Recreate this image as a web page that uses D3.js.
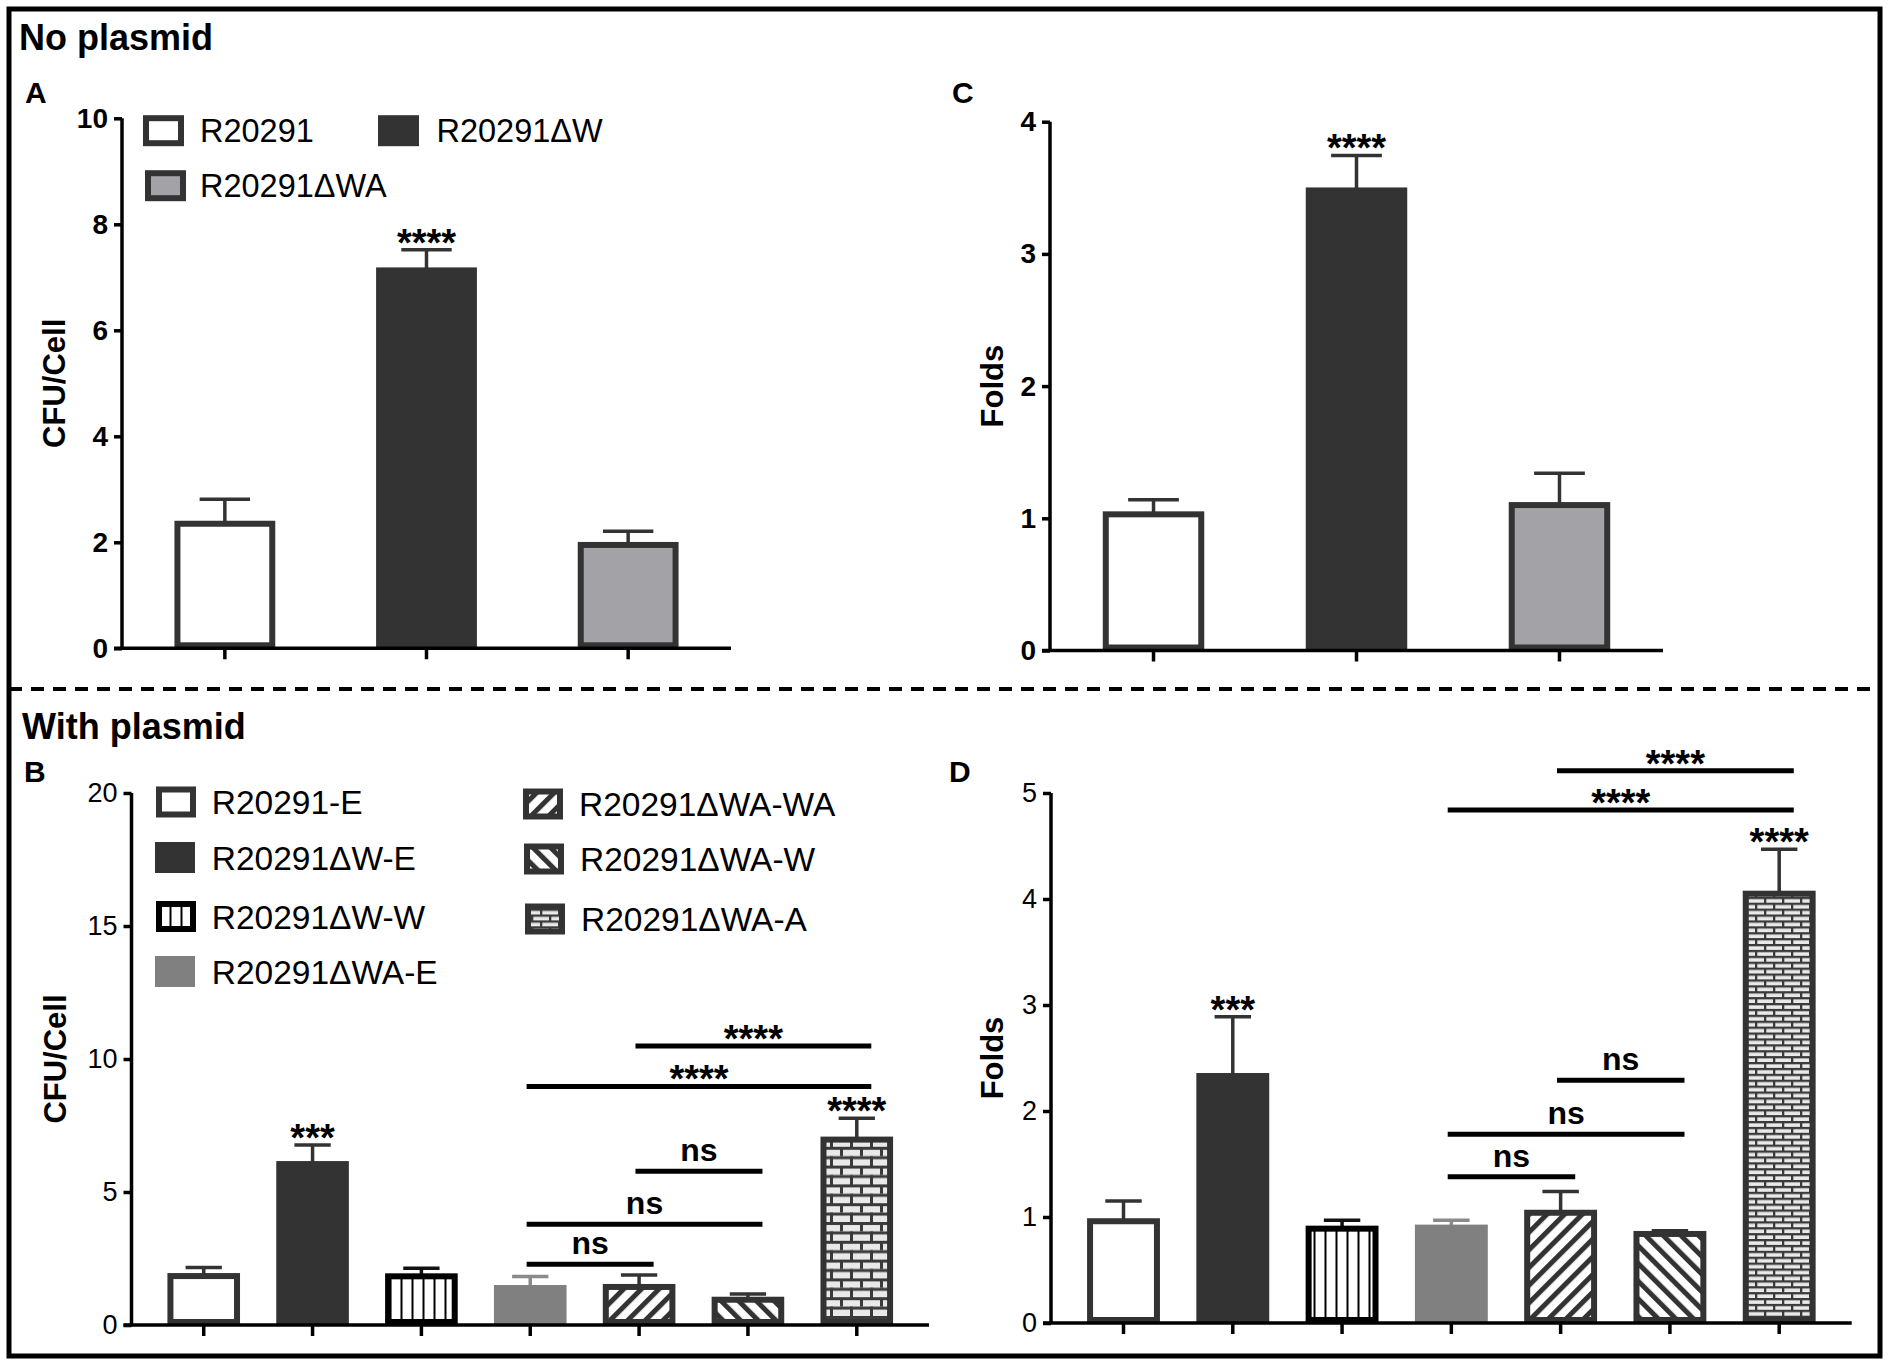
<!DOCTYPE html>
<html><head><meta charset="utf-8">
<script src="https://cdn.jsdelivr.net/npm/d3@7"></script>
<style>
body{margin:0;background:#fff;}
svg{display:block;font-family:"Liberation Sans",Arial,Helvetica,sans-serif;}
</style></head><body>
<svg id="fig" width="1892" height="1367"></svg>
<script>
// ---------------- DATA ----------------
const catsNoPlasmid = ["R20291", "R20291ΔW", "R20291ΔWA"];
const cfuNoPlasmid = [2.35, 7.13, 1.95];
const cfuNoPlasmidErr = [0.46, 0.39, 0.26];
const foldsNoPlasmid = [1.03, 3.48, 1.10];
const foldsNoPlasmidErr = [0.11, 0.265, 0.24];
const starsNoPlasmid = ["", "****", ""];

const catsPlasmid = ["R20291-E", "R20291ΔW-E", "R20291ΔW-W", "R20291ΔWA-E", "R20291ΔWA-WA", "R20291ΔWA-W", "R20291ΔWA-A"];
const cfuPlasmid = [1.84, 6.05, 1.83, 1.39, 1.43, 0.95, 6.97];
const cfuPlasmidErr = [0.32, 0.72, 0.30, 0.43, 0.45, 0.22, 0.80];
const foldsPlasmid = [0.96, 2.33, 0.89, 0.90, 1.04, 0.84, 4.05];
const foldsPlasmidErr = [0.19, 0.56, 0.08, 0.07, 0.20, 0.03, 0.42];
const starsPlasmid = ["", "***", "", "", "", "", "****"];

const cfuComparisons = [
  {from: "R20291ΔWA-E", to: "R20291ΔWA-WA", level: 2.28, label: "ns"},
  {from: "R20291ΔWA-E", to: "R20291ΔWA-W", level: 3.79, label: "ns"},
  {from: "R20291ΔWA-WA", to: "R20291ΔWA-W", level: 5.78, label: "ns"},
  {from: "R20291ΔWA-E", to: "R20291ΔWA-A", level: 8.97, label: "****"},
  {from: "R20291ΔWA-WA", to: "R20291ΔWA-A", level: 10.49, label: "****"}
];
const foldsComparisons = [
  {from: "R20291ΔWA-E", to: "R20291ΔWA-WA", level: 1.38, label: "ns"},
  {from: "R20291ΔWA-E", to: "R20291ΔWA-W", level: 1.78, label: "ns"},
  {from: "R20291ΔWA-WA", to: "R20291ΔWA-W", level: 2.29, label: "ns"},
  {from: "R20291ΔWA-E", to: "R20291ΔWA-A", level: 4.84, label: "****"},
  {from: "R20291ΔWA-WA", to: "R20291ΔWA-A", level: 5.21, label: "****"}
];

const ticksA = [0, 2, 4, 6, 8, 10];
const ticksC = [0, 1, 2, 3, 4];
const ticksB = [0, 5, 10, 15, 20];
const ticksD = [0, 1, 2, 3, 4, 5];

// ---------------- STYLES ----------------
const styleMap = {
  "R20291": {fill: "#ffffff", stroke: "#333", err: "#333"},
  "R20291ΔW": {fill: "#333333", stroke: "#333", err: "#333"},
  "R20291ΔWA": {fill: "#a3a3a7", stroke: "#333", err: "#333"},
  "R20291-E": {fill: "#ffffff", stroke: "#333", err: "#333"},
  "R20291ΔW-E": {fill: "#333333", stroke: "#333", err: "#333"},
  "R20291ΔW-W": {fill: "url(#vlines)", stroke: "#000", err: "#111"},
  "R20291ΔWA-E": {fill: "#808080", stroke: "#808080", err: "#8a8a8a"},
  "R20291ΔWA-WA": {fill: "url(#diagUp)", stroke: "#333", err: "#333"},
  "R20291ΔWA-W": {fill: "url(#diagDown)", stroke: "#333", err: "#333"},
  "R20291ΔWA-A": {fill: "url(#brickB)", stroke: "#333", err: "#333"}
};

const svg = d3.select("#fig");
const defs = svg.append("defs");

// vertical lines
const pv = defs.append("pattern").attr("id", "vlines").attr("patternUnits", "userSpaceOnUse")
  .attr("width", 11).attr("height", 10);
pv.append("rect").attr("width", 11).attr("height", 10).attr("fill", "#fff");
pv.append("rect").attr("x", 4.5).attr("width", 2).attr("height", 10).attr("fill", "#000");

function diag(id, angle) {
  const p = defs.append("pattern").attr("id", id).attr("patternUnits", "userSpaceOnUse")
    .attr("width", 12.5).attr("height", 12.5).attr("patternTransform", `rotate(${angle})`);
  p.append("rect").attr("width", 12.5).attr("height", 12.5).attr("fill", "#fff");
  p.append("rect").attr("width", 5).attr("height", 12.5).attr("fill", "#333");
}
diag("diagUp", 45);
diag("diagDown", -45);

function brick(id, w, h, m) {
  const p = defs.append("pattern").attr("id", id).attr("patternUnits", "userSpaceOnUse")
    .attr("width", w).attr("height", 2 * h);
  p.append("rect").attr("width", w).attr("height", 2 * h).attr("fill", "#e9e9e9");
  p.append("rect").attr("y", 0).attr("width", w).attr("height", m).attr("fill", "#3a3a3a");
  p.append("rect").attr("y", h).attr("width", w).attr("height", m).attr("fill", "#3a3a3a");
  p.append("rect").attr("x", 0).attr("y", 0).attr("width", m).attr("height", h).attr("fill", "#3a3a3a");
  p.append("rect").attr("x", w / 2).attr("y", h).attr("width", m).attr("height", h).attr("fill", "#3a3a3a");
}
brick("brickB", 20, 9.4, 3);
brick("brickD", 18, 5.9, 2.3);

// ---------------- FRAME ----------------
svg.append("rect").attr("x", 9).attr("y", 9).attr("width", 1871).attr("height", 1347)
  .attr("fill", "none").attr("stroke", "#000").attr("stroke-width", 5);
svg.append("line").attr("x1", 9).attr("x2", 1880).attr("y1", 689).attr("y2", 689)
  .attr("stroke", "#000").attr("stroke-width", 4).attr("stroke-dasharray", "13 9");

svg.append("text").attr("x", 19).attr("y", 50).attr("font-size", 36).attr("font-weight", "bold").text("No plasmid");
svg.append("text").attr("x", 22).attr("y", 739).attr("font-size", 36).attr("font-weight", "bold").text("With plasmid");

const letters = [["A", 25, 103], ["C", 952, 103], ["B", 24, 782], ["D", 949, 782]];
letters.forEach(([t, x, y]) => svg.append("text").attr("x", x).attr("y", y)
  .attr("font-size", 30).attr("font-weight", "bold").text(t));

// ---------------- PANEL ----------------
function drawPanel(o) {
  const g = svg.append("g");
  const x = d3.scaleBand().domain(o.cats).range(o.xRange).paddingInner(o.padIn).paddingOuter(o.padOut);
  const y = d3.scaleLinear().domain([0, d3.max(o.ticks)]).range(o.yRange);
  const bw = x.bandwidth();
  const sw = 6;
  const cx = c => x(c) + bw / 2;
  const style = c => Object.assign({}, styleMap[c], (o.override || {})[c] || {});
  const rows = o.cats.map((c, i) => ({c, v: o.values[i], e: o.errs[i], s: o.stars[i]}));

  // error bars
  rows.forEach(r => {
    const st = style(r.c);
    g.append("line").attr("x1", cx(r.c)).attr("x2", cx(r.c)).attr("y1", y(r.v)).attr("y2", y(r.v + r.e))
      .attr("stroke", st.err).attr("stroke-width", 3.5);
    g.append("line").attr("x1", cx(r.c) - bw / 4).attr("x2", cx(r.c) + bw / 4)
      .attr("y1", y(r.v + r.e)).attr("y2", y(r.v + r.e))
      .attr("stroke", st.err).attr("stroke-width", 3.5);
  });
  // bars
  g.selectAll("rect.bar").data(rows).join("rect").attr("class", "bar")
    .attr("x", d => x(d.c) + sw / 2).attr("width", bw - sw)
    .attr("y", d => y(d.v)).attr("height", d => y(0) - y(d.v) - sw / 2)
    .attr("fill", d => style(d.c).fill).attr("stroke", d => style(d.c).stroke).attr("stroke-width", sw);
  // stars above bars
  g.selectAll("text.star").data(rows.filter(d => d.s)).join("text").attr("class", "star")
    .attr("x", d => cx(d.c)).attr("y", d => y(d.v + d.e) + 6)
    .attr("text-anchor", "middle").attr("font-size", 38).attr("font-weight", "bold").text(d => d.s);

  // comparisons
  (o.comparisons || []).forEach(cmp => {
    const x1 = cx(cmp.from) - 0.05 * bw, x2 = cx(cmp.to) + 0.2 * bw, yy = y(cmp.level);
    g.append("line").attr("x1", x1).attr("x2", x2).attr("y1", yy).attr("y2", yy)
      .attr("stroke", "#000").attr("stroke-width", 5);
    const isNs = cmp.label === "ns";
    g.append("text").attr("x", (x1 + x2) / 2).attr("y", isNs ? yy - 10 : yy + 6)
      .attr("text-anchor", "middle").attr("font-weight", "bold")
      .attr("font-size", isNs ? 32 : 38).text(cmp.label);
  });

  // axes
  const x0 = o.xRange[0];
  const yAxis = g.append("g").attr("transform", `translate(${x0},0)`)
    .call(d3.axisLeft(y).tickValues(o.ticks).tickSize(8).tickPadding(6).tickFormat(d3.format("d")));
  yAxis.select(".domain").attr("d", `M0,${y(0)}V${y(d3.max(o.ticks))}`).attr("stroke", "#000").attr("stroke-width", 3.5);
  yAxis.selectAll(".tick line").attr("stroke", "#000").attr("stroke-width", 3.5);
  yAxis.selectAll(".tick text").attr("fill", "#000").attr("font-size", o.tickSize)
    .attr("font-weight", o.tickWeight).attr("font-family", "'Liberation Sans',Arial,sans-serif");

  const xAxis = g.append("g").attr("transform", `translate(0,${y(0)})`)
    .call(d3.axisBottom(x).tickSize(11).tickFormat(""));
  xAxis.select(".domain").attr("d", `M${x0 - 8},0H${o.xRange[1]}`).attr("stroke", "#000").attr("stroke-width", 3.5);
  xAxis.selectAll(".tick line").attr("stroke", "#000").attr("stroke-width", 3.5);

  // y title
  g.append("text").attr("transform", `translate(${o.titleX},${(o.yRange[0] + o.yRange[1]) / 2}) rotate(-90)`)
    .attr("text-anchor", "middle").attr("font-size", 31).attr("font-weight", "bold").text(o.yTitle);

  // legend
  (o.legend || []).forEach(L => {
    const st = style(L.cat);
    g.append("rect").attr("x", L.bx + 3).attr("y", L.base - o.legBoxOff + 3)
      .attr("width", o.legBoxW - 6).attr("height", o.legBoxH - 6)
      .attr("fill", st.legendFill || st.fill).attr("stroke", st.stroke).attr("stroke-width", 6);
    g.append("text").attr("x", L.tx).attr("y", L.base).attr("font-size", o.legFont).text(L.cat);
  });
}

drawPanel({
  cats: catsNoPlasmid, values: cfuNoPlasmid, errs: cfuNoPlasmidErr, stars: starsNoPlasmid,
  ticks: ticksA, xRange: [122, 731], yRange: [648.3, 118.3], padIn: 0.5, padOut: 0.26,
  tickSize: 28, tickWeight: "bold", yTitle: "CFU/Cell", titleX: 65,
  legBoxW: 41, legBoxH: 31, legBoxOff: 26.5, legFont: 32.5,
  legend: [
    {cat: catsNoPlasmid[0], bx: 143, tx: 200, base: 141.7},
    {cat: catsNoPlasmid[1], bx: 378, tx: 436.5, base: 141.7},
    {cat: catsNoPlasmid[2], bx: 145, tx: 200, base: 196.7}
  ]
});

drawPanel({
  cats: catsNoPlasmid, values: foldsNoPlasmid, errs: foldsNoPlasmidErr, stars: starsNoPlasmid,
  ticks: ticksC, xRange: [1050, 1663], yRange: [650.5, 121.7], padIn: 0.5, padOut: 0.26,
  tickSize: 28, tickWeight: "bold", yTitle: "Folds", titleX: 1003
});

drawPanel({
  cats: catsPlasmid, values: cfuPlasmid, errs: cfuPlasmidErr, stars: starsPlasmid,
  ticks: ticksB, xRange: [131.5, 929], yRange: [1325, 793], padIn: 0.333, padOut: 0.33,
  tickSize: 27, tickWeight: "normal", yTitle: "CFU/Cell", titleX: 66,
  comparisons: cfuComparisons,
  override: {"R20291ΔWA-A": {legendFill: "url(#brickD)"}},
  legBoxW: 40, legBoxH: 31, legBoxOff: 27.5, legFont: 33.5,
  legend: [
    {cat: catsPlasmid[0], bx: 156, tx: 211.7, base: 814},
    {cat: catsPlasmid[1], bx: 155, tx: 211.7, base: 869.5},
    {cat: catsPlasmid[2], bx: 156, tx: 211.7, base: 928.5},
    {cat: catsPlasmid[3], bx: 155, tx: 211.7, base: 983.5},
    {cat: catsPlasmid[4], bx: 523, tx: 579, base: 816},
    {cat: catsPlasmid[5], bx: 524, tx: 580, base: 871},
    {cat: catsPlasmid[6], bx: 525, tx: 581, base: 931}
  ]
});

drawPanel({
  cats: catsPlasmid, values: foldsPlasmid, errs: foldsPlasmidErr, stars: starsPlasmid,
  ticks: ticksD, xRange: [1051, 1851.7], yRange: [1323, 793], padIn: 0.333, padOut: 0.33,
  tickSize: 27, tickWeight: "normal", yTitle: "Folds", titleX: 1003,
  comparisons: foldsComparisons,
  override: {"R20291ΔWA-A": {fill: "url(#brickD)"}}
});
</script>
</body></html>
